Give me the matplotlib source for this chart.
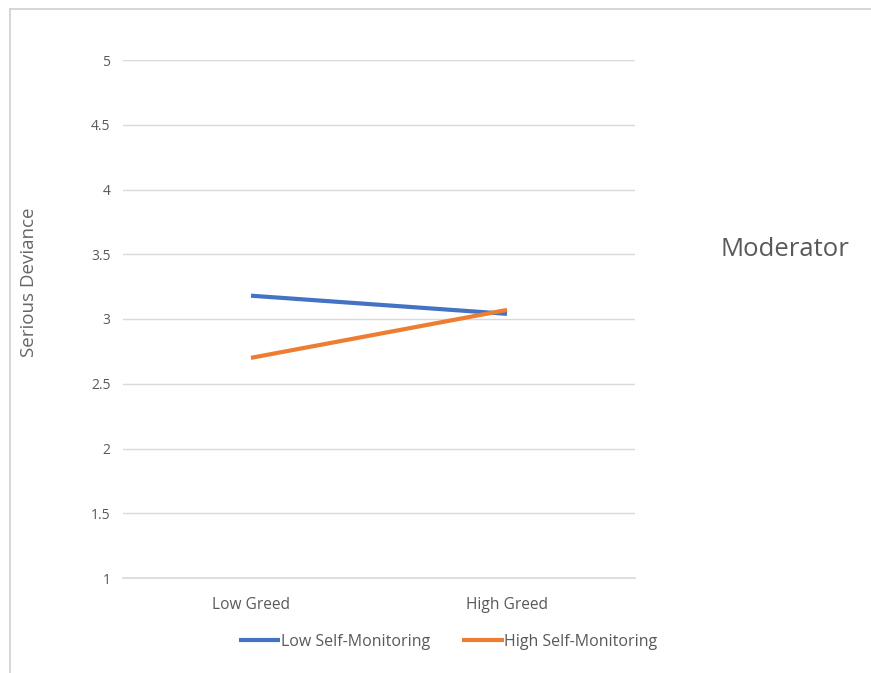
import matplotlib
matplotlib.use("Agg")
import matplotlib.pyplot as plt
from matplotlib.lines import Line2D

categories = ["Low Greed", "High Greed"]
low_self_monitoring = [3.18, 3.04]
high_self_monitoring = [2.70, 3.07]
series_names = ["Low Self-Monitoring", "High Self-Monitoring"]
y_ticks = [1, 1.5, 2, 2.5, 3, 3.5, 4, 4.5, 5]
y_tick_labels = ["1", "1.5", "2", "2.5", "3", "3.5", "4", "4.5", "5"]

W, H = 871, 673
fig = plt.figure(figsize=(W / 100, H / 100), dpi=100)
fig.patch.set_facecolor("white")
plt.rcParams["font.family"] = ["Open Sans", "DejaVu Sans"]

text_col = "#595959"
grid_col = "#d9d9d9"
blue = "#4472c4"
orange = "#ed7d31"

# outer chart-area frame (top and left edges)
fig.add_artist(Line2D([9.5 / W, 1.0], [1 - 8.5 / H, 1 - 8.5 / H], color="#d0d0d0", lw=1.2))
fig.add_artist(Line2D([9.5 / W, 9.5 / W], [0.0, 1 - 8.5 / H], color="#d0d0d0", lw=1.2))

left, right = 123 / W, 635 / W
top, bottom = 1 - 60 / H, 1 - 578 / H
ax = fig.add_axes([left, bottom, right - left, top - bottom])
ax.set_xlim(0, 2)
ax.set_ylim(1, 5)
for s in ax.spines.values():
    s.set_visible(False)
ax.set_yticks(y_ticks)
ax.set_yticklabels(y_tick_labels)
ax.yaxis.grid(True, color=grid_col, lw=1.0)
ax.set_axisbelow(True)
ax.tick_params(axis="y", length=0, pad=9, labelsize=10, labelcolor=text_col)
x = [0.5, 1.5]
ax.set_xticks(x)
ax.set_xticklabels(categories)
ax.tick_params(axis="x", length=0, pad=14, labelsize=11.2, labelcolor=text_col)
ax.axhline(1, color=grid_col, lw=1.2, clip_on=False)

ax.plot(x, low_self_monitoring, color=blue, lw=3, solid_capstyle="butt", label=series_names[0])
ax.plot(x, high_self_monitoring, color=orange, lw=3, solid_capstyle="butt", label=series_names[1])

ax.set_ylabel("Serious Deviance", fontsize=13.5, color="#666666")
ax.yaxis.set_label_coords((38 - 123) / 512, (578 - 282) / 518)

leg = fig.legend(loc="center", bbox_to_anchor=(448 / W, 1 - 642 / H), ncol=2, frameon=False,
                 fontsize=11.5, handlelength=2.6, handletextpad=0.05, columnspacing=2.0)
for t in leg.get_texts():
    t.set_color(text_col)

fig.text(785 / W, 1 - 250 / H, "Moderator", fontsize=18.5, color=text_col, ha="center", va="center")

fig.savefig("out.png", dpi=100, facecolor="white")
